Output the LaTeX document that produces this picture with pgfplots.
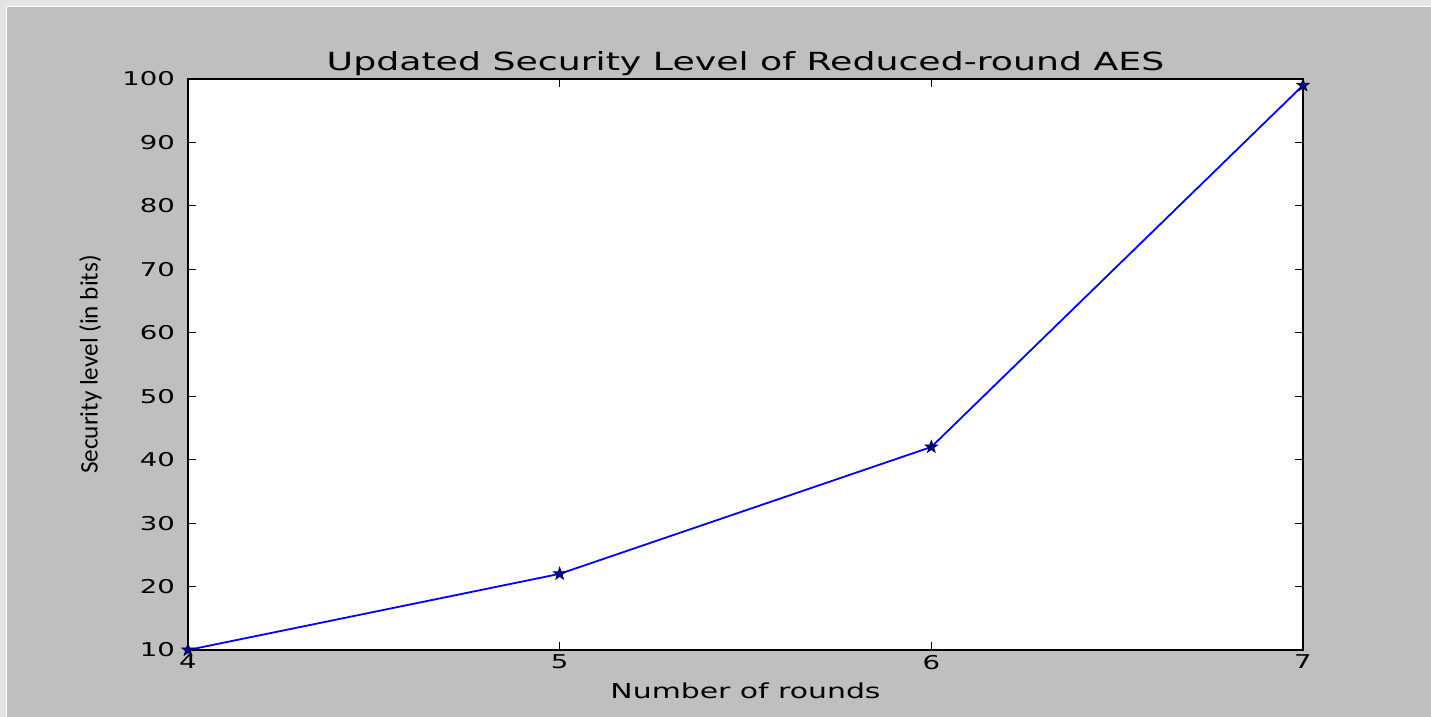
\documentclass[border=0pt]{standalone}
\usepackage{pgfplots}
\pgfplotsset{compat=1.18}
\usepackage{fontspec}
\setmainfont[FakeStretch=1.45]{DejaVu Sans}
\newfontfamily\labelfont{Carlito}
\definecolor{bg}{HTML}{BFBFBF}
\definecolor{outer}{HTML}{E4E4E4}
\pgfdeclareplotmark{fstar}{%
  \pgfpathmoveto{\pgfpointpolar{90}{\pgfplotmarksize}}%
  \pgfpathlineto{\pgfpointpolar{126}{0.4\pgfplotmarksize}}%
  \pgfpathlineto{\pgfpointpolar{162}{\pgfplotmarksize}}%
  \pgfpathlineto{\pgfpointpolar{198}{0.4\pgfplotmarksize}}%
  \pgfpathlineto{\pgfpointpolar{234}{\pgfplotmarksize}}%
  \pgfpathlineto{\pgfpointpolar{270}{0.4\pgfplotmarksize}}%
  \pgfpathlineto{\pgfpointpolar{306}{\pgfplotmarksize}}%
  \pgfpathlineto{\pgfpointpolar{342}{0.4\pgfplotmarksize}}%
  \pgfpathlineto{\pgfpointpolar{18}{\pgfplotmarksize}}%
  \pgfpathlineto{\pgfpointpolar{54}{0.4\pgfplotmarksize}}%
  \pgfpathclose
  \pgfusepathqfillstroke}
\begin{document}
\begin{tikzpicture}
\fill[outer] (0,0) rectangle (715.5pt,358.5pt);
\fill[white] (3pt,0) rectangle (715.5pt,355.5pt);
\fill[bg] (3.5pt,0) rectangle (715.5pt,355pt);
\begin{axis}[
  at={(94pt,33.5pt)}, anchor=south west,
  scale only axis, width=557.5pt, height=285.5pt,
  xmin=4, xmax=7, ymin=10, ymax=100,
  xtick={4,5,6,7}, ytick={10,20,...,100},
  tick align=inside, major tick length=4pt,
  tick style={black, line width=0.4pt},
  axis line style={black, line width=0.8pt},
  axis background/.style={fill=white},
  /pgf/number format/assume math mode=true,
  ticklabel style={font=\fontsize{9.5}{11}\selectfont},
  xticklabel style={yshift=1pt},
  yticklabel style={xshift=-3pt},
  title={Updated Security Level of Reduced-round AES},
  title style={font=\fontsize{12.5}{14}\selectfont, yshift=-8pt},
  xlabel={Number of rounds},
  xlabel style={font=\fontsize{10.3}{12}\selectfont, yshift=0pt},
  ylabel={Security level (in bits)},
  ylabel style={font=\labelfont\fontsize{12.6}{14}\selectfont, yshift=3.5pt},
  clip=false,
]
\addplot[blue, line width=0.9pt, mark=fstar, mark size=3.2pt,
  mark options={draw=black!80!blue, fill=blue!60!black, line width=0.4pt}]
  coordinates {(4,10) (5,22) (6,42) (7,99)};
\end{axis}
\end{tikzpicture}
\end{document}
